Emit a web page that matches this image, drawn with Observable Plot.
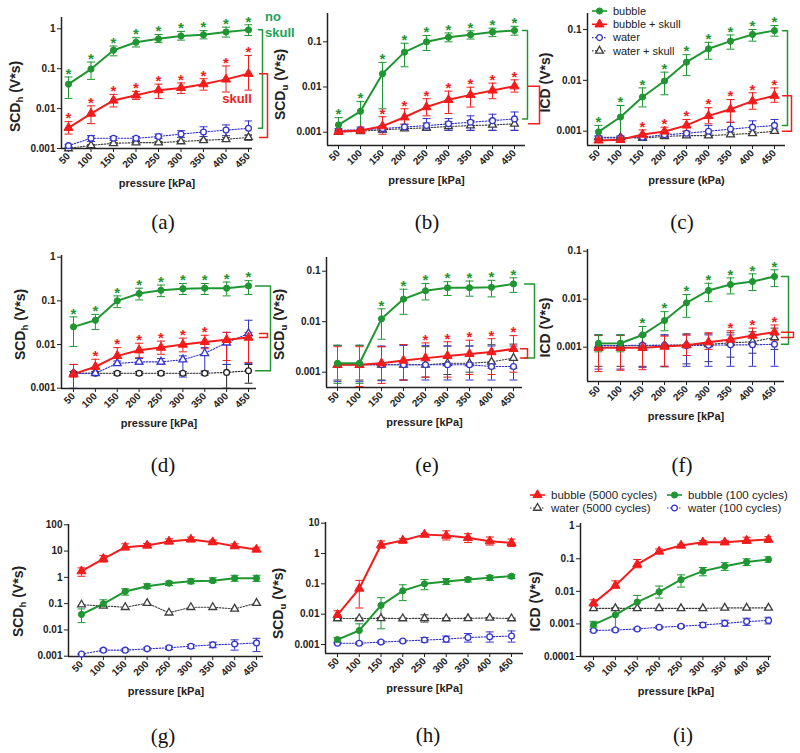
<!DOCTYPE html>
<html><head><meta charset="utf-8">
<script src="https://cdn.jsdelivr.net/npm/d3@7"></script>
<script src="https://cdn.jsdelivr.net/npm/@observablehq/plot@0.6"></script>
<style>
body{margin:0;background:#fff;}
#fig{position:relative;width:800px;height:753px;overflow:hidden;background:#fff;font-family:"Liberation Sans",Arial,sans-serif;}
.pnl{position:absolute;}
.pnl svg{overflow:visible;}
.letter{position:absolute;font-family:"Liberation Serif","Times New Roman",serif;font-size:21px;transform:translate(-50%,-50%);color:#111;}
.note{position:absolute;font-weight:bold;font-size:13px;line-height:16px;}
</style></head><body><div id="fig"></div>
<script>
const pressures = [50,100,150,200,250,300,350,400,450];

// ---- (a) SCDh, 100 cycles, bubble vs skull ----
const a_bubble    = [0.041,0.098,0.29,0.46,0.56,0.66,0.71,0.83,0.94];
const a_bubble_hi = [0.062,0.147,0.37,0.6,0.72,0.86,0.9,1.1,1.26];
const a_bubble_lo = [0.018,0.054,0.21,0.35,0.45,0.52,0.56,0.62,0.68];
const a_skull     = [0.0033,0.0075,0.016,0.0215,0.029,0.033,0.041,0.054,0.075];
const a_skull_hi  = [0.0047,0.0117,0.0227,0.027,0.041,0.044,0.056,0.117,0.215];
const a_skull_lo  = [0.0023,0.0042,0.011,0.017,0.018,0.024,0.029,0.026,0.029];
const a_water     = [0.00118,0.0018,0.0018,0.0018,0.002,0.0023,0.0026,0.0029,0.0032];
const a_water_hi  = [0.00125,0.0021,0.002,0.002,0.0023,0.0028,0.0035,0.0039,0.0049];
const a_water_lo  = [0.0011,0.0015,0.0016,0.0016,0.0018,0.0019,0.002,0.0021,0.0021];
const a_wskull    = [0.001,0.0012,0.00135,0.0014,0.0014,0.0015,0.0016,0.0017,0.0019];
const a_wskull_hi = [0.00105,0.00125,0.0014,0.0015,0.0015,0.0016,0.0017,0.0019,0.0022];
const a_wskull_lo = [0.00095,0.00115,0.0013,0.0013,0.0013,0.0014,0.0015,0.0015,0.0016];
const a_starsBubble = [50,100,150,200,250,300,350,400,450];
const a_starsSkull  = [50,100,150,200,250,300,350,400,450];

// ---- (b) SCDu ----
const b_bubble    = [0.00145,0.0029,0.0196,0.059,0.1,0.126,0.143,0.164,0.178];
const b_bubble_hi = [0.0021,0.0048,0.035,0.093,0.138,0.157,0.175,0.2,0.22];
const b_bubble_lo = [0.0011,0.0011,0.0033,0.028,0.064,0.1,0.115,0.13,0.14];
const b_skull     = [0.00103,0.00109,0.00136,0.00214,0.0036,0.0052,0.0067,0.0084,0.0104];
const b_skull_hi  = [0.00108,0.00118,0.0022,0.0033,0.0055,0.0081,0.0099,0.0122,0.0144];
const b_skull_lo  = [0.00095,0.001,0.0009,0.0015,0.0023,0.0026,0.0036,0.0055,0.0077];
const b_water     = [0.0011,0.00113,0.0012,0.0013,0.0014,0.00153,0.00166,0.0018,0.00197];
const b_water_hi  = [0.0012,0.0013,0.0014,0.0015,0.002,0.002,0.0023,0.0025,0.0028];
const b_water_lo  = [0.001,0.001,0.001,0.0011,0.0011,0.0011,0.0011,0.0011,0.0011];
const b_wskull    = [0.001,0.00105,0.00113,0.0012,0.00125,0.00134,0.0014,0.00145,0.00153];
const b_wskull_hi = [0.00105,0.0011,0.0012,0.0013,0.0016,0.0017,0.0018,0.0019,0.0019];
const b_wskull_lo = [0.00095,0.001,0.00105,0.0011,0.0011,0.0011,0.0011,0.0011,0.0011];
const b_starsBubble = [50,100,150,200,250,300,350,400,450];
const b_starsSkull  = [150,200,250,300,350,400,450];

// ---- (c) ICD ----
const c_bubble    = [0.00097,0.0019,0.0047,0.0097,0.0228,0.0417,0.059,0.08,0.095];
const c_bubble_hi = [0.0013,0.0032,0.0071,0.0145,0.032,0.056,0.078,0.1,0.12];
const c_bubble_lo = [0.0007,0.0007,0.003,0.0052,0.0124,0.026,0.041,0.059,0.074];
const c_skull     = [0.00066,0.00068,0.00086,0.00099,0.0013,0.002,0.0027,0.0039,0.005];
const c_skull_hi  = [0.0007,0.00075,0.00106,0.0012,0.0017,0.0029,0.0042,0.0057,0.0071];
const c_skull_lo  = [0.0006,0.0006,0.0007,0.0008,0.001,0.0014,0.0015,0.0027,0.0037];
const c_water     = [0.00074,0.00074,0.00076,0.00085,0.00091,0.001,0.0011,0.0012,0.0013];
const c_water_hi  = [0.0008,0.0008,0.00085,0.00095,0.001,0.0013,0.0015,0.0016,0.0017];
const c_water_lo  = [0.00068,0.00068,0.0007,0.00075,0.0008,0.0008,0.0008,0.0009,0.001];
const c_wskull    = [0.00076,0.00076,0.00073,0.00079,0.00082,0.00082,0.00086,0.00091,0.001];
const c_wskull_hi = [0.0008,0.0008,0.00078,0.00084,0.00088,0.00088,0.00093,0.00098,0.0011];
const c_wskull_lo = [0.0007,0.0007,0.00068,0.00074,0.00076,0.00076,0.0008,0.00085,0.00092];
const c_starsBubble = [50,100,150,200,250,300,350,400,450];
const c_starsSkull  = [150,200,250,300,350,400,450];

// ---- (d) SCDh ----
const d_bubble    = [0.0254,0.036,0.1,0.147,0.175,0.19,0.195,0.195,0.22];
const d_bubble_hi = [0.043,0.049,0.13,0.195,0.23,0.25,0.25,0.27,0.29];
const d_bubble_lo = [0.009,0.022,0.07,0.105,0.125,0.14,0.14,0.13,0.14];
const d_skull     = [0.0021,0.0031,0.0055,0.0074,0.0085,0.01,0.0115,0.0128,0.0145];
const d_skull_hi  = [0.0035,0.0046,0.0085,0.0107,0.012,0.014,0.0163,0.019,0.019];
const d_skull_lo  = [0.0018,0.0022,0.0037,0.005,0.006,0.0068,0.008,0.0043,0.0039];
const d_water     = [0.0022,0.0022,0.0037,0.004,0.004,0.0045,0.0063,0.011,0.018];
const d_water_hi  = [0.0035,0.0024,0.0042,0.0048,0.0048,0.0055,0.0085,0.019,0.036];
const d_water_lo  = [0.001,0.002,0.0033,0.0035,0.0035,0.0018,0.0025,0.0035,0.0037];
const d_wskull    = [0.0022,0.0022,0.0022,0.0022,0.0022,0.0022,0.0022,0.0023,0.0025];
const d_wskull_hi = [0.0024,0.0024,0.0024,0.0024,0.0024,0.0024,0.0024,0.0035,0.0035];
const d_wskull_lo = [0.002,0.002,0.002,0.002,0.002,0.002,0.002,0.001,0.0013];
const d_starsBubble = [50,100,150,200,250,300,350,400,450];
const d_starsSkull  = [100,150,200,250,300,350];

// ---- (e) SCDu ----
const e_bubble    = [0.0015,0.0015,0.0114,0.028,0.041,0.047,0.047,0.048,0.056];
const e_bubble_hi = [0.0034,0.0034,0.018,0.044,0.057,0.062,0.064,0.066,0.074];
const e_bubble_lo = [0.0006,0.0006,0.0045,0.014,0.027,0.033,0.032,0.031,0.038];
const e_skull     = [0.0014,0.0014,0.0015,0.0017,0.0019,0.0021,0.0023,0.0025,0.0029];
const e_skull_hi  = [0.0032,0.0032,0.0032,0.0035,0.0038,0.004,0.0043,0.0046,0.0053];
const e_skull_lo  = [0.0005,0.00052,0.0006,0.0007,0.0008,0.0008,0.0009,0.0009,0.001];
const e_water     = [0.0014,0.0014,0.0014,0.0014,0.0014,0.0014,0.0014,0.0013,0.0013];
const e_water_hi  = [0.0034,0.0034,0.0033,0.0034,0.0034,0.0033,0.0033,0.0033,0.0033];
const e_water_lo  = [0.00065,0.00065,0.00068,0.0007,0.0007,0.0007,0.0007,0.0007,0.0007];
const e_wskull    = [0.0014,0.0014,0.0014,0.0014,0.0014,0.0015,0.0015,0.0016,0.0019];
const e_wskull_hi = [0.0034,0.0034,0.0032,0.0035,0.0032,0.0033,0.0033,0.0035,0.0036];
const e_wskull_lo = [0.0007,0.0007,0.0007,0.0007,0.0008,0.0009,0.001,0.0012,0.0012];
const e_starsBubble = [150,200,250,300,350,400,450];
const e_starsSkull  = [250,300,350,400,450];

// ---- (f) ICD ----
const f_bubble    = [0.0012,0.00121,0.0018,0.0036,0.0084,0.0152,0.0202,0.0233,0.0297];
const f_bubble_hi = [0.0018,0.0018,0.0027,0.0055,0.0125,0.0215,0.0278,0.0337,0.0409];
const f_bubble_lo = [0.0008,0.0008,0.0012,0.0022,0.0042,0.0089,0.0129,0.0152,0.0183];
const f_skull     = [0.00097,0.00097,0.00097,0.00103,0.0011,0.00127,0.00144,0.00175,0.00205];
const f_skull_hi  = [0.00175,0.00175,0.0017,0.0017,0.0018,0.002,0.0022,0.0025,0.0029];
const f_skull_lo  = [0.00031,0.00033,0.00034,0.0004,0.00067,0.0009,0.0011,0.0012,0.0014];
const f_water     = [0.00108,0.00108,0.0011,0.0011,0.00108,0.0011,0.00112,0.00112,0.00115];
const f_water_hi  = [0.0018,0.0018,0.0018,0.0018,0.0018,0.0018,0.0018,0.0018,0.0018];
const f_water_lo  = [0.00035,0.00035,0.00038,0.0004,0.0004,0.0004,0.0004,0.0004,0.0004];
const f_wskull    = [0.00108,0.00108,0.00108,0.0011,0.00112,0.00115,0.00123,0.0013,0.0016];
const f_wskull_hi = [0.0018,0.0018,0.0018,0.0018,0.0019,0.0019,0.002,0.0021,0.0025];
const f_wskull_lo = [0.0004,0.0004,0.0004,0.00039,0.00045,0.0005,0.00062,0.00075,0.0009];
const f_starsBubble = [150,200,250,300,350,400,450];
const f_starsSkull  = [350,400,450];

// ---- (g) SCDh, 5000 vs 100 cycles ----
const g_b5000    = [1.72,5.1,14.1,16.3,23.2,27.7,21.9,15.4,11.5];
const g_b5000_hi = [2.3,6.8,19,19.5,29,34,26,19,14];
const g_b5000_lo = [1.1,3.8,11,14,19,23,18,13,10];
const g_b100     = [0.039,0.099,0.29,0.46,0.6,0.71,0.75,0.92,0.92];
const g_b100_hi  = [0.063,0.14,0.37,0.57,0.71,0.88,0.96,1.2,1.2];
const g_b100_lo  = [0.019,0.073,0.21,0.37,0.49,0.57,0.63,0.71,0.7];
const g_w5000    = [0.091,0.082,0.073,0.104,0.045,0.073,0.073,0.063,0.105];
const g_w100     = [0.0012,0.0017,0.0017,0.0019,0.0021,0.0024,0.0027,0.0029,0.0032];
const g_w100_hi  = [0.00125,0.0019,0.0019,0.0021,0.0024,0.0028,0.0034,0.0042,0.0048];
const g_w100_lo  = [0.00115,0.0015,0.0015,0.0017,0.0018,0.002,0.0021,0.0017,0.0015];

// ---- (h) SCDu ----
const h_b5000    = [0.0095,0.07,1.9,2.7,4.2,3.9,3.3,2.55,2.25];
const h_b5000_hi = [0.013,0.13,2.6,3.1,4.6,5.6,4.5,3.5,3.0];
const h_b5000_lo = [0.007,0.016,1.5,2.2,3.8,2.8,2.3,1.9,1.7];
const h_b100     = [0.00145,0.0029,0.0196,0.059,0.1,0.12,0.14,0.16,0.178];
const h_b100_hi  = [0.0017,0.0048,0.035,0.093,0.138,0.15,0.16,0.19,0.2];
const h_b100_lo  = [0.0012,0.0011,0.0033,0.028,0.064,0.095,0.115,0.13,0.15];
const h_w5000    = [0.0072,0.0072,0.0073,0.0072,0.0073,0.0072,0.0073,0.0075,0.0072];
const h_w5000_hi = [0.0075,0.0075,0.0078,0.0075,0.0095,0.0075,0.0076,0.0078,0.0075];
const h_w5000_lo = [0.0069,0.0069,0.0068,0.0069,0.0055,0.0069,0.007,0.0072,0.0069];
const h_w100     = [0.0011,0.0011,0.0012,0.0013,0.0014,0.0015,0.0017,0.0018,0.0019];
const h_w100_hi  = [0.00115,0.0012,0.0013,0.0014,0.0017,0.0019,0.0023,0.0026,0.0028];
const h_w100_lo  = [0.00105,0.001,0.0011,0.0012,0.0012,0.0012,0.0012,0.0012,0.0012];

// ---- (i) ICD ----
const i_b5000    = [0.0043,0.015,0.067,0.167,0.255,0.32,0.32,0.36,0.39];
const i_b5000_hi = [0.0055,0.021,0.095,0.2,0.28,0.36,0.36,0.46,0.48];
const i_b5000_lo = [0.0036,0.013,0.053,0.15,0.23,0.29,0.29,0.3,0.32];
const i_b100     = [0.00095,0.0019,0.0047,0.0097,0.0228,0.0417,0.059,0.08,0.095];
const i_b100_hi  = [0.0012,0.0032,0.0075,0.0145,0.032,0.054,0.076,0.1,0.115];
const i_b100_lo  = [0.0008,0.0007,0.003,0.0062,0.0135,0.03,0.044,0.062,0.078];
const i_w5000    = [0.003,0.003,0.003,0.003,0.003,0.003,0.0031,0.0031,0.0031];
const i_w100     = [0.00063,0.00065,0.0007,0.00079,0.00085,0.00093,0.00104,0.00118,0.00128];
const i_w100_hi  = [0.00068,0.0007,0.00076,0.00085,0.00092,0.0011,0.0013,0.0015,0.0016];
const i_w100_lo  = [0.00058,0.0006,0.00065,0.00073,0.00078,0.0008,0.00085,0.0009,0.001];

// tick labels / texts
const ticksTop  = [0.001,0.01,0.1,1];
const ticksMid  = [0.001,0.01,0.1];
const ticksG    = [0.001,0.01,0.1,1,10,100];
const ticksH    = [0.001,0.01,0.1,1,10];
const ticksI    = [0.0001,0.001,0.01,0.1,1];
const legendC_labels = ["bubble","bubble + skull","water","water + skull"];
const legendI_labels = ["bubble (5000 cycles)","bubble (100 cycles)","water (5000 cycles)","water (100 cycles)"];
const panelLetters = ["(a)","(b)","(c)","(d)","(e)","(f)","(g)","(h)","(i)"];

// ---- styles ----
const ST = {
  bubble:     {color:"#1f9632", symbol:"circle",   r:3.1, filled:true,  w:2,   dash:null},
  skull:      {color:"#f21c1c", symbol:"triangle", r:3.4, filled:true,  w:2,   dash:null},
  water:      {color:"#3434cc", symbol:"circle",   r:2.9, filled:false, w:1.1, dash:"1.5 1.5"},
  wskull:     {color:"#3c3c3c", symbol:"triangle", r:2.9, filled:false, w:1.1, dash:"1.5 1.5"},
  waterTri:   {color:"#3434cc", symbol:"triangle", r:2.9, filled:false, w:1.1, dash:"1.5 1.5"},
  wskullCirc: {color:"#222222", symbol:"circle",   r:2.9, filled:false, w:1.1, dash:"1.5 1.5"}
};
const GREEN_TXT = "#17a35a";
const capSym = {draw(ctx){ ctx.moveTo(-4,0); ctx.lineTo(4,0); }};
const fig = document.getElementById("fig");

function S(m,h,l,style){ return {m,h,l,style:ST[style]}; }

const panels = [
 {box:[0,0,265,200], AL:61, AR:252, AT:17, AB:148, x50:68, x450:248, yRef:[[0.001,148],[1,28.3]], yTicks:ticksTop,
  ylabel:"SCDh (V*s)", labelX:15, labelY:96, xlabel:"pressure [kPa]",
  series:[S(a_wskull,a_wskull_hi,a_wskull_lo,"wskull"),S(a_water,a_water_hi,a_water_lo,"water"),S(a_skull,a_skull_hi,a_skull_lo,"skull"),S(a_bubble,a_bubble_hi,a_bubble_lo,"bubble")],
  stars:[{s:3,at:a_starsBubble},{s:2,at:a_starsSkull}],
  brackets:[{color:ST.bubble.color,top:3,bot:1,arm:10,vert:14},{color:ST.skull.color,top:2,bot:0,arm:11,vert:19}]},
 {box:[265,0,265,200], AL:327, AR:525, AT:13, AB:145, x50:338, x450:514, yRef:[[0.001,131.7],[0.1,41.3]], yTicks:ticksMid,
  ylabel:"SCDu (V*s)", labelX:280, labelY:84, xlabel:"pressure [kPa]",
  series:[S(b_wskull,b_wskull_hi,b_wskull_lo,"wskull"),S(b_water,b_water_hi,b_water_lo,"water"),S(b_skull,b_skull_hi,b_skull_lo,"skull"),S(b_bubble,b_bubble_hi,b_bubble_lo,"bubble")],
  stars:[{s:3,at:b_starsBubble},{s:2,at:b_starsSkull}],
  brackets:[{color:ST.bubble.color,top:3,bot:1,arm:8,vert:13},{color:ST.skull.color,top:2,bot:0,arm:14,vert:25}]},
 {box:[530,0,270,200], AL:587, AR:785, AT:13, AB:145, x50:598, x450:774, yRef:[[0.001,130.7],[0.1,29]], yTicks:ticksMid,
  ylabel:"ICD (V*s)", labelX:545, labelY:82, xlabel:"pressure (kPa)",
  series:[S(c_wskull,c_wskull_hi,c_wskull_lo,"wskull"),S(c_water,c_water_hi,c_water_lo,"water"),S(c_skull,c_skull_hi,c_skull_lo,"skull"),S(c_bubble,c_bubble_hi,c_bubble_lo,"bubble")],
  stars:[{s:3,at:c_starsBubble},{s:2,at:c_starsSkull}],
  brackets:[{color:ST.bubble.color,top:3,bot:1,arm:8,vert:13},{color:ST.skull.color,top:2,bot:0,arm:8,vert:17}]},
 {box:[0,230,265,205], AL:61, AR:256, AT:255, AB:388, x50:73, x450:248, yRef:[[0.001,387.7],[1,256.7]], yTicks:ticksTop,
  ylabel:"SCDh (V*s)", labelX:20, labelY:324, xlabel:"pressure [kPa]",
  series:[S(d_wskull,d_wskull_hi,d_wskull_lo,"wskullCirc"),S(d_water,d_water_hi,d_water_lo,"waterTri"),S(d_skull,d_skull_hi,d_skull_lo,"skull"),S(d_bubble,d_bubble_hi,d_bubble_lo,"bubble")],
  stars:[{s:3,at:d_starsBubble},{s:2,at:d_starsSkull}],
  brackets:[{color:ST.bubble.color,top:3,bot:0,arm:7,vert:22},{color:ST.skull.color,top:1,bot:2,arm:11,vert:19}]},
 {box:[265,230,265,205], AL:326, AR:522, AT:257, AB:387, x50:337, x450:513, yRef:[[0.001,371.7],[0.1,270.7]], yTicks:ticksMid,
  ylabel:"SCDu (V*s)", labelX:279, labelY:324, xlabel:"pressure [kPa]",
  series:[S(e_wskull,e_wskull_hi,e_wskull_lo,"wskull"),S(e_water,e_water_hi,e_water_lo,"water"),S(e_skull,e_skull_hi,e_skull_lo,"skull"),S(e_bubble,e_bubble_hi,e_bubble_lo,"bubble")],
  stars:[{s:3,at:e_starsBubble},{s:2,at:e_starsSkull}],
  brackets:[{color:ST.bubble.color,top:3,bot:0,arm:11,vert:21},{color:ST.skull.color,top:2,bot:0,arm:7,vert:14}]},
 {box:[530,230,270,205], AL:587, AR:784, AT:249, AB:381, x50:598, x450:774, yRef:[[0.001,346.7],[0.1,250.7]], yTicks:ticksMid,
  ylabel:"ICD (V*s)", labelX:545, labelY:327, xlabel:"pressure [kPa]",
  series:[S(f_wskull,f_wskull_hi,f_wskull_lo,"wskull"),S(f_water,f_water_hi,f_water_lo,"water"),S(f_skull,f_skull_hi,f_skull_lo,"skull"),S(f_bubble,f_bubble_hi,f_bubble_lo,"bubble")],
  stars:[{s:3,at:f_starsBubble},{s:2,at:f_starsSkull}],
  brackets:[{color:ST.bubble.color,top:3,bot:1,arm:7,vert:14},{color:ST.skull.color,top:2,bot:0,arm:7,vert:19}]},
 {box:[0,505,265,200], AL:68, AR:263, AT:524, AB:656, x50:81, x450:256, yRef:[[0.001,655.7],[100,524.3]], yTicks:ticksG,
  ylabel:"SCDh (V*s)", labelX:18, labelY:601, xlabel:"pressure [kPa]",
  series:[S(g_w5000,null,null,"wskull"),S(g_w100,g_w100_hi,g_w100_lo,"water"),S(g_b100,g_b100_hi,g_b100_lo,"bubble"),S(g_b5000,g_b5000_hi,g_b5000_lo,"skull")]},
 {box:[265,505,265,200], AL:325, AR:523, AT:522, AB:653, x50:337, x450:511, yRef:[[0.001,644],[10,522.7]], yTicks:ticksH,
  ylabel:"SCDu (V*s)", labelX:278, labelY:603, xlabel:"pressure [kPa]",
  series:[S(h_w5000,h_w5000_hi,h_w5000_lo,"wskull"),S(h_w100,h_w100_hi,h_w100_lo,"water"),S(h_b100,h_b100_hi,h_b100_lo,"bubble"),S(h_b5000,h_b5000_hi,h_b5000_lo,"skull")]},
 {box:[525,505,275,200], AL:580, AR:771, AT:523, AB:656, x50:593, x450:768, yRef:[[0.0001,656],[1,525.7]], yTicks:ticksI,
  ylabel:"ICD (V*s)", labelX:535, labelY:601, xlabel:"pressure [kPa]",
  series:[S(i_w5000,null,null,"wskull"),S(i_w100,i_w100_hi,i_w100_lo,"water"),S(i_b100,i_b100_hi,i_b100_lo,"bubble"),S(i_b5000,i_b5000_hi,i_b5000_lo,"skull")]}
];
const letterPos = [[163,222],[427,222],[682,222],[163,465],[427,465],[682,465],[163,736],[428,735],[683,735]];

function render(P){
  const [bx,by,W,H] = P.box;
  const mL = P.AL-bx, mR = bx+W-P.AR, mT = P.AT-by, mB = by+H-P.AB;
  const k = (P.x450-P.x50)/400;
  const xDom = [50-(P.x50-P.AL)/k, 450+(P.AR-P.x450)/k];
  const [[v1,p1],[v2,p2]] = P.yRef;
  const ppd = (p1-p2)/(Math.log10(v2)-Math.log10(v1));
  const yDom = [10**(Math.log10(v1)-(P.AB-p1)/ppd), 10**(Math.log10(v2)+(p2-P.AT)/ppd)];
  const rowsOf = s => pressures.map((p,i)=>({p, m:s.m[i], h:s.h?s.h[i]:null, l:s.l?s.l[i]:null}));
  const R = P.series.map(rowsOf);
  const marks = [
    Plot.ruleX([xDom[0]], {stroke:"#222", strokeWidth:1.5}),
    Plot.ruleY([yDom[0]], {stroke:"#222", strokeWidth:1.5})
  ];
  P.series.forEach((s,j)=>{
    if(!s.h) return;
    const c = s.style.color;
    marks.push(Plot.ruleX(R[j], {x:"p", y1:"l", y2:"h", stroke:c, strokeWidth:1, clip:true}));
    marks.push(Plot.dot(R[j], {x:"p", y:"h", symbol:capSym, fill:"none", stroke:c, strokeWidth:1, clip:true}));
    marks.push(Plot.dot(R[j], {x:"p", y:"l", symbol:capSym, fill:"none", stroke:c, strokeWidth:1, clip:true}));
  });
  P.series.forEach((s,j)=>marks.push(Plot.line(R[j], {x:"p", y:"m", stroke:s.style.color, strokeWidth:s.style.w, strokeDasharray:s.style.dash})));
  P.series.forEach((s,j)=>marks.push(Plot.dot(R[j], {x:"p", y:"m", symbol:s.style.symbol, r:s.style.r,
      fill:s.style.filled?s.style.color:"white", stroke:s.style.color, strokeWidth:s.style.filled?1:1.3})));
  (P.stars||[]).forEach(st=>{
    const rows = R[st.s].filter(d=>st.at.includes(d.p));
    marks.push(Plot.text(rows, {x:"p", y:"h", text:()=>"*", fill:P.series[st.s].style.color, fontSize:15, fontWeight:"bold", lineAnchor:"middle", dy:-3}));
  });
  (P.brackets||[]).forEach(b=>{
    const top = P.series[b.top].m[8], bot = P.series[b.bot].m[8];
    const xa = 450+b.arm/k, xv = 450+b.vert/k;
    marks.push(Plot.line([[xa,top],[xv,top],[xv,bot],[xa,bot]], {stroke:b.color, strokeWidth:1.5}));
  });
  marks.push(Plot.text([P.xlabel], {text:d=>d, frameAnchor:"bottom", dy:35, fontSize:11, fontWeight:"bold", lineAnchor:"middle", fill:"#222"}));
  marks.push(Plot.text([P.ylabel], {text:d=>d, frameAnchor:"left", rotate:-90, dx:P.labelX-P.AL, dy:P.labelY-(P.AT+P.AB)/2,
      fontSize:14, fontWeight:"bold", lineAnchor:"middle", textAnchor:"middle", fill:"#222"}));
  const svg = Plot.plot({
    width:W, height:H, marginLeft:mL, marginRight:mR, marginTop:mT, marginBottom:mB,
    style:"overflow:visible;background:none;font-family:'Liberation Sans',Arial,sans-serif;font-size:10px;font-weight:bold;color:#222;",
    x:{domain:xDom, ticks:pressures, tickRotate:-45, tickSize:4, tickPadding:2, label:null},
    y:{type:"log", domain:yDom, ticks:P.yTicks, tickFormat:d=>String(d), tickSize:4, tickPadding:2, label:null},
    marks
  });
  // subscript in SCD labels
  const ns = "http://www.w3.org/2000/svg";
  svg.querySelectorAll("text").forEach(t=>{
    const mm = /^SCD([hu])( \(V\*s\))$/.exec(t.textContent);
    if(!mm) return;
    while(t.firstChild) t.removeChild(t.firstChild);
    t.appendChild(document.createTextNode("SCD"));
    const sub = document.createElementNS(ns,"tspan"); sub.setAttribute("font-size","9.5"); sub.setAttribute("dy","3"); sub.textContent = mm[1];
    const rest = document.createElementNS(ns,"tspan"); rest.setAttribute("dy","-3"); rest.textContent = mm[2];
    t.appendChild(sub); t.appendChild(rest);
  });
  const div = document.createElement("div");
  div.className = "pnl";
  div.style.left = bx+"px"; div.style.top = by+"px"; div.style.width = W+"px"; div.style.height = H+"px";
  div.appendChild(svg);
  fig.appendChild(div);
}
panels.forEach(render);

// legends
function legend(left, top, w, h, items, fs){
  const svg = d3.create("svg").attr("width",w).attr("height",h)
    .style("position","absolute").style("left",left+"px").style("top",top+"px").style("overflow","visible");
  items.forEach(it=>{
    const st = ST[it.style];
    svg.append("line").attr("x1",it.x).attr("x2",it.x+15).attr("y1",it.y).attr("y2",it.y)
      .attr("stroke",st.color).attr("stroke-width",st.filled?1.6:1.1).attr("stroke-dasharray",st.dash);
    const sym = d3.symbol(st.symbol==="circle"?d3.symbolCircle:d3.symbolTriangle, Math.PI*st.r*st.r);
    svg.append("path").attr("d",sym()).attr("transform",`translate(${it.x+7.5},${it.y})`)
      .attr("fill",st.filled?st.color:"white").attr("stroke",st.color).attr("stroke-width",st.filled?1:1.3);
    svg.append("text").attr("x",it.x+21).attr("y",it.y).attr("dy","0.35em").attr("font-size",fs)
      .attr("font-family","'Liberation Sans',Arial,sans-serif").attr("fill","#222").text(it.label);
  });
  fig.appendChild(svg.node());
}
const cStyles = ["bubble","skull","water","wskull"];
legend(585, 2, 215, 58, legendC_labels.map((label,i)=>({label, style:cStyles[i], x:7, y:9+i*13.3})), 11);
const iStyles = ["skull","bubble","wskull","water"];
legend(525, 487, 275, 30, legendI_labels.map((label,i)=>({label, style:iStyles[i], x:i%2===0?5:142, y:i<2?8:21})), 11.5);

// panel letters
panelLetters.forEach((t,i)=>{
  const d = document.createElement("div");
  d.className = "letter"; d.textContent = t;
  d.style.left = letterPos[i][0]+"px"; d.style.top = letterPos[i][1]+"px";
  fig.appendChild(d);
});

// annotations in (a)
const n1 = document.createElement("div");
n1.className = "note"; n1.style.color = GREEN_TXT; n1.style.left = "265px"; n1.style.top = "9px";
n1.innerHTML = "no<br>skull"; fig.appendChild(n1);
const n2 = document.createElement("div");
n2.className = "note"; n2.style.color = ST.skull.color; n2.style.left = "237px"; n2.style.top = "99px";
n2.style.transform = "translate(-50%,-50%)"; n2.textContent = "skull"; fig.appendChild(n2);
</script></body></html>
